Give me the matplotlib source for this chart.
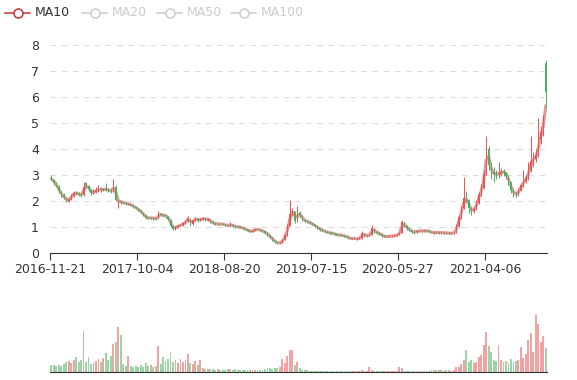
import matplotlib
matplotlib.use("Agg")
import matplotlib.pyplot as plt
from matplotlib.lines import Line2D
import numpy as np
import pandas as pd

# one candle ~ one week of trading
opens = [2.95, 2.82, 2.66, 2.55, 2.36, 2.22, 2.12, 1.98, 2.06, 2.2,
         2.34, 2.3, 2.26, 2.24, 2.68, 2.58, 2.42, 2.3, 2.34, 2.4,
         2.46, 2.42, 2.48, 2.44, 2.4, 2.38, 2.55, 1.78, 1.98, 1.95,
         1.92, 1.86, 1.88, 1.83, 1.76, 1.7, 1.64, 1.54, 1.45, 1.37,
         1.33, 1.36, 1.33, 1.32, 1.5, 1.46, 1.45, 1.4, 1.28, 1.03,
         0.94, 1.0, 1.05, 1.08, 1.14, 1.22, 1.3, 1.12, 1.26, 1.32,
         1.25, 1.3, 1.33, 1.28, 1.29, 1.2, 1.14, 1.11, 1.13, 1.12,
         1.1, 1.07, 1.05, 1.09, 1.04, 1.02, 1.0, 0.98, 0.95, 0.91,
         0.86, 0.82, 0.87, 0.91, 0.9, 0.88, 0.83, 0.78, 0.7, 0.6,
         0.5, 0.42, 0.38, 0.4, 0.5, 0.68, 1.05, 1.5, 1.6, 1.22,
         1.55, 1.44, 1.28, 1.23, 1.2, 1.14, 1.1, 1.02, 0.96, 0.9,
         0.86, 0.82, 0.79, 0.77, 0.75, 0.72, 0.7, 0.69, 0.67, 0.65,
         0.6, 0.55, 0.56, 0.54, 0.55, 0.56, 0.74, 0.67, 0.68, 0.69,
         0.94, 0.82, 0.77, 0.74, 0.66, 0.63, 0.64, 0.65, 0.66, 0.67,
         0.7, 0.78, 1.17, 1.05, 0.95, 0.88, 0.82, 0.8, 0.86, 0.84,
         0.85, 0.87, 0.86, 0.82, 0.78, 0.8, 0.78, 0.79, 0.77, 0.78,
         0.77, 0.75, 0.76, 0.78, 1.05, 1.38, 1.72, 2.15, 2.05, 1.72,
         1.6, 1.7, 1.92, 2.26, 2.5, 3.05, 4.0, 3.4, 3.1, 3.05,
         3.02, 3.05, 3.14, 3.1, 2.98, 2.72, 2.42, 2.28, 2.25, 2.42,
         2.62, 2.75, 2.88, 3.2, 3.55, 3.62, 3.75, 4.4, 4.65, 7.3]
closes = [2.85, 2.68, 2.58, 2.38, 2.2, 2.15, 2.0, 2.08, 2.22, 2.3,
          2.3, 2.25, 2.22, 2.55, 2.6, 2.45, 2.3, 2.35, 2.42, 2.45,
          2.42, 2.46, 2.44, 2.4, 2.38, 2.6, 2.05, 1.98, 1.95, 1.93,
          1.9, 1.88, 1.84, 1.78, 1.72, 1.65, 1.56, 1.46, 1.36, 1.34,
          1.36, 1.33, 1.31, 1.5, 1.47, 1.45, 1.42, 1.32, 1.05, 0.93,
          1.01, 1.05, 1.08, 1.14, 1.22, 1.35, 1.1, 1.27, 1.33, 1.25,
          1.3, 1.33, 1.29, 1.3, 1.2, 1.14, 1.12, 1.12, 1.12, 1.1,
          1.07, 1.05, 1.1, 1.04, 1.01, 1.0, 0.98, 0.95, 0.91, 0.86,
          0.82, 0.87, 0.91, 0.9, 0.88, 0.83, 0.78, 0.7, 0.6, 0.5,
          0.42, 0.38, 0.4, 0.5, 0.68, 1.05, 1.5, 1.63, 1.22, 1.55,
          1.45, 1.28, 1.24, 1.2, 1.15, 1.1, 1.03, 0.96, 0.9, 0.86,
          0.82, 0.79, 0.77, 0.75, 0.72, 0.7, 0.69, 0.67, 0.65, 0.6,
          0.56, 0.56, 0.55, 0.55, 0.56, 0.75, 0.67, 0.68, 0.69, 0.95,
          0.82, 0.77, 0.74, 0.66, 0.63, 0.64, 0.65, 0.66, 0.67, 0.7,
          0.78, 1.18, 1.05, 0.95, 0.88, 0.82, 0.8, 0.85, 0.85, 0.85,
          0.86, 0.86, 0.82, 0.79, 0.79, 0.79, 0.79, 0.78, 0.78, 0.77,
          0.76, 0.76, 0.78, 1.05, 1.38, 1.72, 2.1, 2.06, 1.72, 1.6,
          1.7, 1.92, 2.26, 2.5, 3.05, 4.05, 3.4, 3.1, 3.05, 3.04,
          3.05, 3.13, 3.1, 2.98, 2.72, 2.42, 2.28, 2.25, 2.42, 2.62,
          2.75, 2.88, 3.2, 3.55, 3.62, 3.75, 4.35, 4.65, 5.1, 6.2]
highs = [3.0, 2.86, 2.72, 2.6, 2.4, 2.3, 2.16, 2.12, 2.28, 2.38,
         2.38, 2.34, 2.3, 2.74, 2.72, 2.62, 2.46, 2.45, 2.52, 2.62,
         2.52, 2.5, 2.68, 2.5, 2.46, 2.85, 2.6, 2.02, 2.02, 1.98,
         1.96, 1.93, 1.9, 1.86, 1.8, 1.73, 1.67, 1.57, 1.47, 1.4,
         1.4, 1.38, 1.36, 1.63, 1.53, 1.5, 1.48, 1.43, 1.3, 1.06,
         1.05, 1.09, 1.12, 1.18, 1.28, 1.43, 1.33, 1.3, 1.4, 1.35,
         1.36, 1.38, 1.35, 1.34, 1.31, 1.22, 1.16, 1.15, 1.15, 1.14,
         1.12, 1.09, 1.2, 1.11, 1.06, 1.04, 1.02, 1.0, 0.97, 0.93,
         0.88, 0.9, 0.94, 0.93, 0.92, 0.89, 0.85, 0.79, 0.71, 0.61,
         0.51, 0.44, 0.43, 0.53, 0.72, 1.1, 2.04, 1.75, 1.62, 1.8,
         1.6, 1.46, 1.31, 1.27, 1.22, 1.17, 1.12, 1.04, 0.98, 0.95,
         0.88, 0.84, 0.81, 0.84, 0.77, 0.74, 0.72, 0.71, 0.69, 0.67,
         0.62, 0.59, 0.58, 0.58, 0.6, 0.86, 0.76, 0.71, 0.73, 1.08,
         0.96, 0.84, 0.79, 0.75, 0.68, 0.67, 0.68, 0.69, 0.7, 0.73,
         0.82, 1.27, 1.2, 1.07, 0.97, 0.9, 0.85, 0.88, 0.89, 0.88,
         0.89, 0.9, 0.88, 0.84, 0.82, 0.82, 0.82, 0.81, 0.81, 0.8,
         0.79, 0.79, 0.82, 1.1, 1.45, 1.8, 2.93, 2.4, 2.08, 1.78,
         1.78, 2.0, 2.35, 2.65, 3.2, 4.5, 4.1, 3.5, 3.3, 3.2,
         3.5, 3.25, 3.22, 3.12, 3.0, 2.75, 2.45, 2.4, 2.5, 2.7,
         3.2, 3.0, 3.5, 4.5, 3.9, 4.0, 5.19, 4.9, 5.3, 7.42]
lows = [2.8, 2.62, 2.52, 2.32, 2.15, 2.08, 1.95, 1.95, 2.03, 2.16,
        2.24, 2.2, 2.16, 2.2, 2.5, 2.38, 2.25, 2.28, 2.3, 2.36,
        2.36, 2.38, 2.38, 2.34, 2.3, 2.34, 2.0, 1.72, 1.9, 1.88,
        1.86, 1.83, 1.8, 1.74, 1.68, 1.6, 1.52, 1.42, 1.32, 1.3,
        1.3, 1.28, 1.27, 1.3, 1.42, 1.4, 1.36, 1.26, 1.0, 0.88,
        0.9, 0.97, 1.02, 1.05, 1.1, 1.18, 1.05, 1.08, 1.22, 1.2,
        1.22, 1.27, 1.24, 1.25, 1.16, 1.1, 1.09, 1.09, 1.09, 1.07,
        1.04, 1.02, 1.03, 1.01, 0.98, 0.97, 0.95, 0.92, 0.88, 0.83,
        0.8, 0.8, 0.85, 0.87, 0.85, 0.8, 0.75, 0.67, 0.57, 0.47,
        0.4, 0.35, 0.36, 0.39, 0.49, 0.66, 1.02, 1.45, 1.15, 1.2,
        1.38, 1.24, 1.18, 1.15, 1.1, 1.06, 0.99, 0.93, 0.86, 0.83,
        0.79, 0.76, 0.74, 0.72, 0.69, 0.67, 0.66, 0.64, 0.62, 0.57,
        0.53, 0.52, 0.52, 0.51, 0.53, 0.55, 0.6, 0.6, 0.65, 0.68,
        0.78, 0.73, 0.68, 0.6, 0.6, 0.6, 0.62, 0.62, 0.63, 0.64,
        0.68, 0.77, 1.0, 0.9, 0.84, 0.78, 0.72, 0.78, 0.8, 0.81,
        0.82, 0.82, 0.79, 0.76, 0.75, 0.75, 0.75, 0.74, 0.74, 0.73,
        0.72, 0.72, 0.73, 0.77, 1.0, 1.3, 1.68, 1.95, 1.55, 1.45,
        1.52, 1.65, 1.88, 2.2, 2.45, 3.0, 3.2, 2.85, 2.75, 2.85,
        2.9, 2.95, 2.95, 2.85, 2.62, 2.3, 2.15, 2.15, 2.2, 2.38,
        2.55, 2.7, 2.8, 3.1, 3.3, 3.5, 3.7, 4.2, 4.5, 5.6]
volumes = [7, 7, 6, 7, 6, 8, 10, 11, 9, 12,
           15, 10, 12, 41, 10, 15, 8, 9, 11, 13,
           10, 14, 19, 12, 16, 28, 30, 45, 37, 8,
           6, 16, 6, 5, 6, 5, 7, 5, 9, 6,
           7, 5, 6, 26, 8, 15, 11, 13, 20, 10,
           12, 9, 13, 10, 12, 18, 9, 8, 11, 7,
           12, 4, 3, 3, 3, 3, 2, 3, 2, 2,
           2, 3, 3, 2, 3, 2, 2, 2, 2, 2,
           2, 2, 2, 2, 2, 2, 3, 4, 4, 3,
           4, 4, 5, 13, 9, 16, 22, 22, 7, 10,
           4, 2, 2, 2, 1, 1, 1, 1, 1, 1,
           1, 1, 1, 1, 1, 1, 1, 1, 1, 1,
           1, 1, 1, 1, 1, 2, 1, 1, 5, 2,
           1, 1, 1, 1, 1, 1, 1, 1, 1, 1,
           5, 4, 1, 1, 1, 1, 1, 1, 1, 1,
           1, 1, 1, 2, 2, 2, 2, 2, 1, 2,
           2, 1, 2, 5, 5, 8, 12, 22, 10, 12,
           9, 10, 15, 17, 27, 40, 26, 20, 12, 11,
           27, 12, 10, 11, 9, 13, 10, 11, 12, 25,
           14, 18, 32, 39, 20, 57, 48, 30, 36, 24]
tick_pos = [0, 35, 70, 105, 140, 175]
tick_labels = ["2016-11-21", "2017-10-04", "2018-08-20", "2019-07-15",
               "2020-05-27", "2021-04-06"]
legend_names = ["MA10", "MA20", "MA50", "MA100"]

W, H = 577, 380
up_col = "#eb5454"
down_col = "#47b262"
ma_col = "#c23531"

o = np.array(opens)
c = np.array(closes)
x = np.arange(len(c))
ma10 = pd.Series(c).rolling(2, min_periods=1).mean()
cols = [up_col if cc >= oo else down_col for oo, cc in zip(o, c)]

fig = plt.figure(figsize=(W / 100, H / 100), dpi=100)
plt.rcParams['font.family'] = ['DejaVu Sans']

# main candlestick panel
ax = fig.add_axes([50 / W, 1 - 253 / H, 497 / W, 208 / H])
ax.plot(x, ma10, color=ma_col, alpha=0.5, lw=2.2, zorder=2)
ax.vlines(x, lows, highs, colors=cols, lw=0.7, zorder=3)
ax.bar(x, c - o, bottom=o, width=0.45, color=cols, zorder=3)
ax.set_xlim(-0.5, len(c) - 0.5)
ax.set_ylim(0, 8)
ax.set_yticks(range(9))
ax.grid(axis="y", color="#dddddd", ls=(0, (5, 5)), lw=0.8)
ax.set_axisbelow(True)
for s in ["top", "right", "left"]:
    ax.spines[s].set_visible(False)
ax.spines["bottom"].set_color("#333333")
ax.set_xticks([p - 0.5 for p in tick_pos])
ax.set_xticklabels(tick_labels)
ax.tick_params(axis="x", length=5, color="#333333", labelsize=9, labelcolor="#333333", pad=2)
ax.tick_params(axis="y", length=0, labelsize=9, labelcolor="#333333", pad=8)

# volume panel
ax2 = fig.add_axes([50 / W, 1 - 372 / H, 497 / W, 80 / H])
ax2.bar(x, volumes, width=0.75, color=cols, alpha=0.55)
ax2.set_xlim(-0.5, len(c) - 0.5)
ax2.set_ylim(0, 80)
for s in ["top", "right", "left"]:
    ax2.spines[s].set_visible(False)
ax2.spines["bottom"].set_color("#333333")
ax2.set_xticks([])
ax2.set_yticks([])

# legend drawn by hand (first item active, others greyed out)
leg_x = [5, 82, 157, 231]
for i, name in enumerate(legend_names):
    col = ma_col if i == 0 else "#cccccc"
    tcol = "#333333" if i == 0 else "#cccccc"
    x0 = leg_x[i]
    fig.add_artist(Line2D([x0 / W, (x0 + 25) / W], [1 - 13 / H, 1 - 13 / H],
                          color=col, lw=1.1))
    fig.add_artist(Line2D([(x0 + 12.5) / W], [1 - 13 / H], marker="o", ms=6.5,
                          mfc="white", mec=col, mew=1.1, color=col))
    fig.text((x0 + 30) / W, 1 - 13 / H, name, color=tcol, fontsize=9, va="center")

plt.savefig("out.png", dpi=100)
